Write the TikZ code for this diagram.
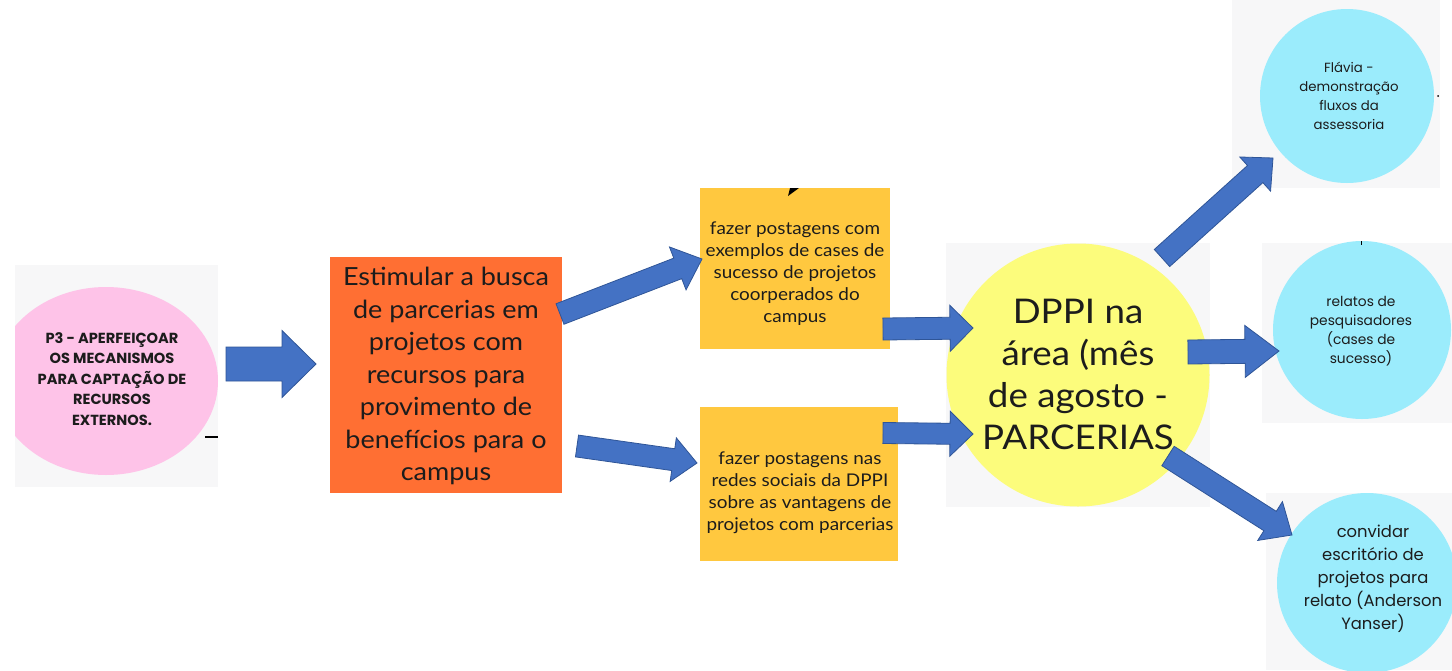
\documentclass[tikz,border=0pt]{standalone}
\usepackage{fontspec}
\setmainfont{Lato}[FakeStretch=1.08]
\newfontfamily\pop{Poppins}
\usetikzlibrary{calc}
\definecolor{pinkc}{HTML}{FEC3E8}
\definecolor{orangec}{HTML}{FF6F33}
\definecolor{yelbox}{HTML}{FFC83F}
\definecolor{yelcirc}{HTML}{FCFC7C}
\definecolor{cyanc}{HTML}{9BECFC}
\definecolor{bgsq}{HTML}{F7F7F8}
\definecolor{arrfill}{HTML}{4472C4}
\definecolor{arrline}{HTML}{2F5597}
\definecolor{txt}{HTML}{1C1C1C}
\newcommand\blockarr[5]{%
  \draw[barr] ($(#1)!#3!90:(#2)$) -- ($(#2)!#5!(#1)!#3!-90:(#1)$) -- ($(#2)!#5!(#1)!#4!-90:(#1)$) -- (#2)
    -- ($(#2)!#5!(#1)!#4!90:(#1)$) -- ($(#2)!#5!(#1)!#3!90:(#1)$) -- ($(#1)!#3!-90:(#2)$) -- cycle;}
\begin{document}
\begin{tikzpicture}[x=1pt,y=-1pt,
  barr/.style={fill=arrfill,draw=arrline,line width=0.8pt,line join=miter},
  bg/.style={fill=bgsq},
  txtnode/.style={text=txt,align=center,inner sep=0pt}]
\useasboundingbox (0,0) rectangle (1452,670);
\clip (0,0) rectangle (1452,670);
\fill[white] (0,0) rectangle (1452,670);
% background squares
\fill[bg] (15,265) rectangle (218,487);
\fill[bg] (946,243) rectangle (1210,507);
\fill[bg] (1232,0) rectangle (1440,188);
\fill[bg] (1262,243) rectangle (1452,423);
\fill[bg] (1266,493) rectangle (1452,670);
% pink ellipse
\begin{scope}
\clip (15,265) rectangle (218,487);
\fill[pinkc] (106,381) ellipse [x radius=112pt, y radius=94pt];
\end{scope}
\node[txtnode,font=\pop\bfseries\fontsize{14.6}{20.5}\selectfont] (p3) at (112,379)
 {P3 - APERFEIÇOAR\\OS MECANISMOS\\PARA CAPTAÇÃO DE\\RECURSOS\\EXTERNOS.};
\draw[line width=2.5pt] (205,437) -- (218,437);
% orange box
\fill[orangec] (330,257) rectangle (562,493);
\node[txtnode,font=\fontsize{25}{32.5}\selectfont] (est) at (446,376)
 {Estimular a busca\\de parcerias em\\projetos com\\recursos para\\provimento de\\benefícios para o\\campus};
% yellow boxes
\fill[yelbox] (700,188) rectangle (890,349);
\node[txtnode,font=\fontsize{17.5}{22}\selectfont] (fz1) at (795,274)
 {fazer postagens com\\exemplos de cases de\\sucesso de projetos\\coorperados do\\campus};
\fill (788,196) -- (790,188) -- (799,188) -- cycle;
\fill[yelbox] (700,407) rectangle (898,561);
\node[txtnode,font=\fontsize{17.5}{22}\selectfont] (fz2) at (800,493)
 {fazer postagens nas\\redes sociais da DPPI\\sobre as vantagens de\\projetos com parcerias};
% yellow circle
\fill[yelcirc] (1078,375) circle [radius=131.5pt];
\node[txtnode,font=\fontsize{34}{42}\selectfont] (dppi) at (1078,374)
 {DPPI na\\área (mês\\de agosto -\\PARCERIAS};
% cyan circles
\fill[cyanc] (1347,96) circle [radius=87pt];
\node[txtnode,font=\pop\fontsize{13.3}{19}\selectfont] (fl) at (1349,96)
 {Flávia -\\demonstração\\fluxos da\\assessoria};
\fill (1438,96) circle [radius=1pt];
\fill[cyanc] (1362,330) circle [radius=89pt];
\node[txtnode,font=\pop\fontsize{13.8}{19}\selectfont] (rel) at (1361,331)
 {relatos de\\pesquisadores\\(cases de\\sucesso)};
\draw[line width=1pt] (1361,241) -- (1361,245);
\fill[cyanc] (1367,583) circle [radius=90pt];
\node[txtnode,font=\pop\fontsize{16.4}{23}\selectfont] (conv) at (1373,579)
 {convidar\\escritório de\\projetos para\\relato (Anderson\\Yanser)};
% arrow anchor coordinates
\coordinate (a1t) at (226,364); \coordinate (a1h) at (316,364);
\coordinate (a2t) at (560,314); \coordinate (a2h) at (702,259);
\coordinate (a3t) at (577,446); \coordinate (a3h) at (697,463);
\coordinate (a4t) at (883,329); \coordinate (a4h) at (973,328);
\coordinate (a5t) at (883,433); \coordinate (a5h) at (973,434);
\coordinate (a6t) at (1162,258); \coordinate (a6h) at (1273,158);
\coordinate (a7t) at (1188,352); \coordinate (a7h) at (1279,351);
\coordinate (a8t) at (1168,456); \coordinate (a8h) at (1292,535);
\blockarr{a1t}{a1h}{17pt}{33.5pt}{34pt}
\blockarr{a2t}{a2h}{11pt}{23pt}{26pt}
\blockarr{a3t}{a3h}{11pt}{22pt}{24pt}
\blockarr{a4t}{a4h}{11pt}{23pt}{23pt}
\blockarr{a5t}{a5h}{10.5pt}{22.5pt}{23pt}
\blockarr{a6t}{a6h}{11.5pt}{23pt}{24pt}
\blockarr{a7t}{a7h}{12pt}{26pt}{34pt}
\blockarr{a8t}{a8h}{11.5pt}{23pt}{26pt}
\end{tikzpicture}
\end{document}
